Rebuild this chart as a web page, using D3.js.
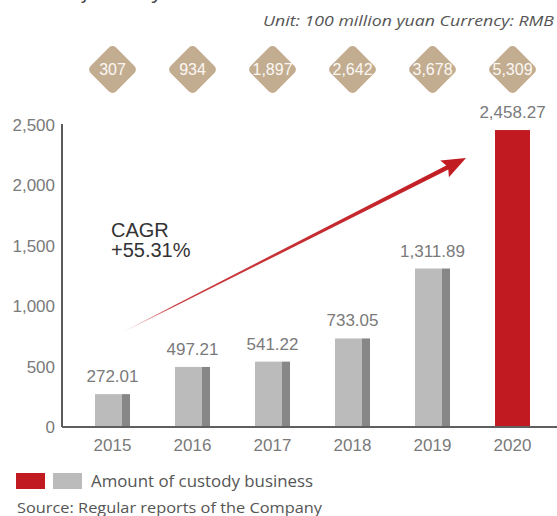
<!DOCTYPE html>
<html><head><meta charset="utf-8">
<script src="https://cdn.jsdelivr.net/npm/d3@7/dist/d3.min.js"></script>
<style>
html,body{margin:0;padding:0;background:#fff;}
svg{display:block;}
</style></head>
<body>
<svg id="chart" width="557" height="516"></svg>
<script>
const years = ["2015","2016","2017","2018","2019","2020"];
const amounts = [272.01, 497.21, 541.22, 733.05, 1311.89, 2458.27];
const amountLabels = ["272.01","497.21","541.22","733.05","1,311.89","2,458.27"];
const diamondValues = ["307","934","1,897","2,642","3,678","5,309"];
const yTicks = [0, 500, 1000, 1500, 2000, 2500];
const highlightYear = "2020";

const svg = d3.select("#chart");
const numFont = "'Liberation Sans', Arial, sans-serif";
const txtFont = "'Open Sans', 'Noto Sans', sans-serif";

const x = d3.scaleBand().domain(years).range([72.5, 552.5]).paddingInner(0.5625).paddingOuter(0.28125);
const y = d3.scaleLinear().domain([0, 2500]).range([427, 125]);
const bw = x.bandwidth();
const sideW = 8;

// partial title (cut off at top, as in the reference)
svg.append("text").attr("x", 163).attr("y", -2).attr("text-anchor", "end")
  .attr("font-family", txtFont).attr("font-style", "italic").attr("font-size", 20)
  .attr("fill", "#444").text("Amount of custody");

// unit
svg.append("text").attr("x", 554).attr("y", 26).attr("text-anchor", "end")
  .attr("font-family", txtFont).attr("font-style", "italic").attr("font-size", 14)
  .attr("fill", "#555").attr("textLength", 291).attr("lengthAdjust", "spacingAndGlyphs")
  .text("Unit: 100 million yuan Currency: RMB");

// diamonds
const dg = svg.append("g").selectAll("g").data(years).join("g")
  .attr("transform", d => `translate(${x(d) + bw / 2},69.5)`);
dg.append("rect").attr("x", -18).attr("y", -18).attr("width", 36).attr("height", 36)
  .attr("rx", 5).attr("fill", "#c3ad91").attr("transform", "rotate(45)");
dg.append("text").attr("text-anchor", "middle").attr("dy", "0.36em")
  .attr("font-family", numFont).attr("font-size", 16).attr("fill", "#fbf8f4")
  .text((d, i) => diamondValues[i]);

// y axis
const yAxis = d3.axisLeft(y).tickValues(yTicks).tickSize(0).tickPadding(7)
  .tickFormat(d3.format(","));
const yg = svg.append("g").attr("transform", "translate(62,0)").call(yAxis);
yg.select(".domain").remove();
yg.selectAll("text").attr("font-family", numFont).attr("font-size", 17).attr("fill", "#7a7a7a");
svg.append("line").attr("x1", 62).attr("x2", 62).attr("y1", y(2500) - 1).attr("y2", y(0))
  .attr("stroke", "#5a5a5a").attr("stroke-width", 2);

// bars
const bars = svg.append("g").selectAll("g").data(years).join("g");
bars.append("rect")
  .attr("x", d => x(d)).attr("y", (d, i) => y(amounts[i]))
  .attr("width", d => d === highlightYear ? bw : bw - sideW)
  .attr("height", (d, i) => y(0) - y(amounts[i]))
  .attr("fill", d => d === highlightYear ? "#c11b21" : "#bbbbbb");
bars.filter(d => d !== highlightYear).append("rect")
  .attr("x", d => x(d) + bw - sideW).attr("y", d => y(amounts[years.indexOf(d)]))
  .attr("width", sideW)
  .attr("height", d => y(0) - y(amounts[years.indexOf(d)]))
  .attr("fill", "#878787");
bars.append("text")
  .attr("x", d => x(d) + bw / 2).attr("y", (d, i) => y(amounts[i]) - 12)
  .attr("text-anchor", "middle").attr("font-family", numFont).attr("font-size", 17)
  .attr("fill", "#7a7a7a").text((d, i) => amountLabels[i]);

// x axis
svg.append("line").attr("x1", 62).attr("x2", 557).attr("y1", y(0)).attr("y2", y(0))
  .attr("stroke", "#5f5f5f").attr("stroke-width", 2);
const xAxis = d3.axisBottom(x).tickSize(0).tickPadding(12);
const xg = svg.append("g").attr("transform", `translate(0,${y(0)})`).call(xAxis);
xg.select(".domain").remove();
xg.selectAll("text").attr("font-family", numFont).attr("font-size", 17).attr("fill", "#7a7a7a");

// CAGR arrow
const s = [123, 332], t = [466, 158];
const dx = t[0] - s[0], dy = t[1] - s[1], len = Math.hypot(dx, dy);
const u = [dx / len, dy / len], n = [-u[1], u[0]];
const headL = 24, headW = 9.5;
const b = [t[0] - headL * u[0], t[1] - headL * u[1]];
const defs = svg.append("defs");
const grad = defs.append("linearGradient").attr("id", "arrowGrad")
  .attr("gradientUnits", "userSpaceOnUse")
  .attr("x1", s[0]).attr("y1", s[1]).attr("x2", t[0]).attr("y2", t[1]);
grad.append("stop").attr("offset", 0).attr("stop-color", "#c11b21").attr("stop-opacity", 0);
grad.append("stop").attr("offset", 0.15).attr("stop-color", "#c11b21").attr("stop-opacity", 0.85);
grad.append("stop").attr("offset", 1).attr("stop-color", "#c11b21").attr("stop-opacity", 1);
const w0 = 0.4, w1 = 2.3;
const bb = [b[0] + 3 * u[0], b[1] + 3 * u[1]];
const pts = [
  [s[0] + n[0] * w0, s[1] + n[1] * w0],
  [bb[0] + n[0] * w1, bb[1] + n[1] * w1],
  [b[0] + n[0] * headW, b[1] + n[1] * headW],
  t,
  [b[0] - n[0] * headW, b[1] - n[1] * headW],
  [bb[0] - n[0] * w1, bb[1] - n[1] * w1],
  [s[0] - n[0] * w0, s[1] - n[1] * w0]
];
svg.append("path").attr("d", d3.line()(pts) + "Z").attr("fill", "url(#arrowGrad)");

svg.append("text").attr("x", 111).attr("y", 237)
  .attr("font-family", numFont).attr("font-size", 20).attr("fill", "#333").text("CAGR");
svg.append("text").attr("x", 111).attr("y", 257)
  .attr("font-family", numFont).attr("font-size", 20).attr("fill", "#333").text("+55.31%");

// legend
svg.append("rect").attr("x", 16).attr("y", 473).attr("width", 29).attr("height", 16).attr("fill", "#c11b21");
svg.append("rect").attr("x", 53).attr("y", 473).attr("width", 29).attr("height", 16).attr("fill", "#bbbbbb");
svg.append("text").attr("x", 91).attr("y", 487)
  .attr("font-family", txtFont).attr("font-size", 16).attr("fill", "#555")
  .attr("textLength", 222).attr("lengthAdjust", "spacingAndGlyphs")
  .text("Amount of custody business");
svg.append("text").attr("x", 17).attr("y", 513)
  .attr("font-family", txtFont).attr("font-size", 15).attr("fill", "#555")
  .attr("textLength", 305).attr("lengthAdjust", "spacingAndGlyphs")
  .text("Source: Regular reports of the Company");
</script>
</body></html>
